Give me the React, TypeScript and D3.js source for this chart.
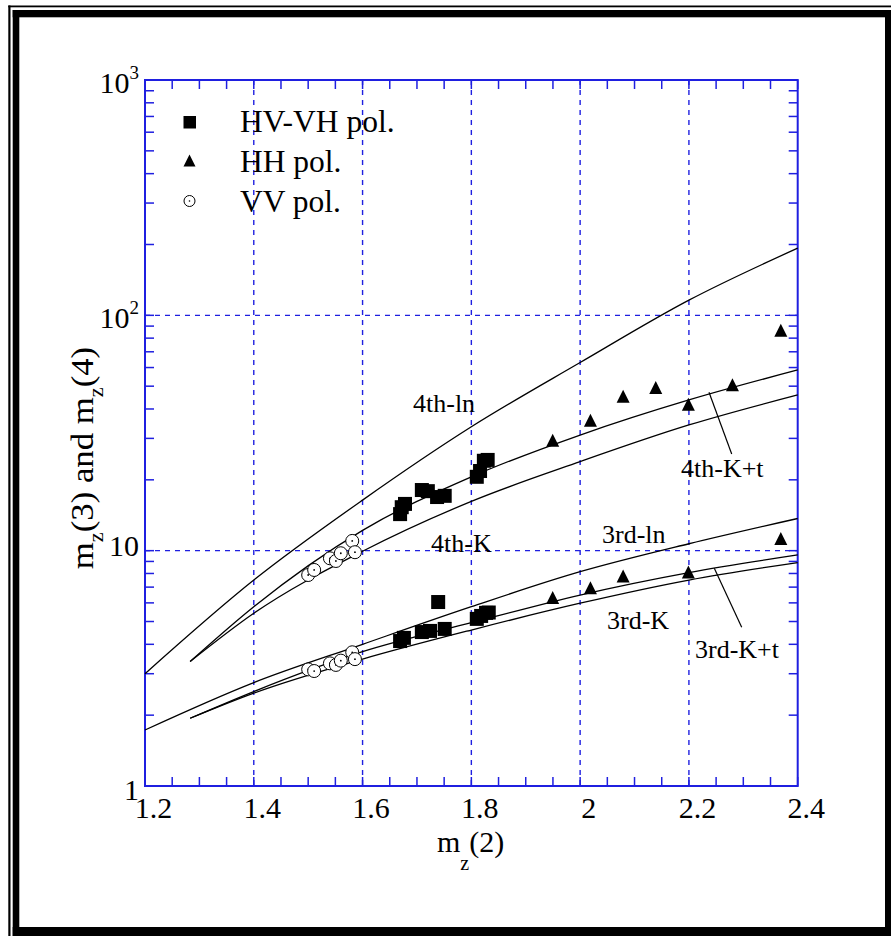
import React from "react";
import * as d3 from "d3";

// ---------- data ----------
const xLn = [1.2, 1.4, 1.6, 1.8, 2.0, 2.2, 2.4];
const xK = [1.283, 1.4, 1.6, 1.8, 2.0, 2.2, 2.4];
const y4thLn = [3.0, 7.5, 16.4, 33.6, 63, 116, 193];
const y4thKt = [3.38, 5.78, 12.2, 20.6, 31, 43.7, 58.6];
const y4thK = [3.38, 5.42, 9.94, 16.2, 23.9, 34.2, 45.9];
const y3rdLn = [1.73, 2.75, 4.0, 5.78, 8.14, 10.7, 13.7];
const y3rdKt = [1.94, 2.52, 3.72, 4.94, 6.48, 8.07, 9.59];
const y3rdK = [1.94, 2.48, 3.46, 4.6, 5.98, 7.5, 8.9];

const hvX4 = [1.669, 1.672, 1.678, 1.709, 1.72, 1.737, 1.751, 1.81, 1.816, 1.823, 1.83];
const hvY4 = [14.3, 15.3, 15.8, 18.1, 17.9, 16.9, 17.1, 20.6, 21.8, 24.1, 24.3];
const hvX3 = [1.669, 1.676, 1.709, 1.724, 1.739, 1.751, 1.81, 1.818, 1.827, 1.832];
const hvY3 = [4.13, 4.26, 4.51, 4.56, 6.05, 4.65, 5.13, 5.28, 5.44, 5.46];

const hhX4 = [1.9495, 2.019, 2.079, 2.139, 2.199, 2.28, 2.369];
const hhY4 = [29.3, 35.6, 45.0, 49.1, 41.6, 50.4, 85.9];
const hhX3 = [1.9495, 2.019, 2.079, 2.199, 2.369];
const hhY3 = [6.28, 6.92, 7.75, 8.06, 11.2];

const vvX = [1.5, 1.511, 1.54, 1.551, 1.56, 1.581, 1.586];
const vvY4 = [7.88, 8.28, 9.28, 9.04, 9.75, 11.0, 9.85];
const vvY3 = [3.13, 3.08, 3.32, 3.27, 3.41, 3.7, 3.46];

const xTickLabels = ["1.2", "1.4", "1.6", "1.8", "2", "2.2", "2.4"];
const xTickValues = [1.2, 1.4, 1.6, 1.8, 2.0, 2.2, 2.4];
const yTickValues = [1, 10, 100, 1000];
const yTickBases = ["1", "10", "10", "10"];
const yTickExps = ["", "", "2", "3"];
const xGrid = [1.4, 1.6, 1.8, 2.0, 2.2];
const yGrid = [10, 100];

const legendLabels = ["HV-VH pol.", "HH pol.", "VV pol."];

// ---------- layout ----------
const W = 891;
const H = 936;
const PL = 145;
const PR = 797.7;
const PT = 80;
const PB = 786;
const BLUE = "#1f1fe0";
const FONT = "'Liberation Serif', 'Times New Roman', serif";

export default function App() {
  const x = d3.scaleLinear().domain([1.2, 2.4]).range([PL, PR]);
  const y = d3.scaleLog().domain([1, 1000]).range([PB, PT]);

  const line = d3
    .line<[number, number]>()
    .x((d) => x(d[0]))
    .y((d) => y(d[1]))
    .curve(d3.curveMonotoneX);

  const curves: [number[], number[]][] = [
    [xLn, y4thLn],
    [xK, y4thKt],
    [xK, y4thK],
    [xLn, y3rdLn],
    [xK, y3rdKt],
    [xK, y3rdK],
  ];

  const minorX = d3.range(0, 25).map((i) => 1.2 + i * 0.05);
  const minorY: number[] = [];
  for (let e = 0; e < 3; e++) for (let m = 1; m <= 9; m++) minorY.push(m * Math.pow(10, e));
  minorY.push(1000);

  const tri = (cx: number, cy: number, s: number) =>
    `M${cx},${cy - s * 0.55}L${cx + s / 2},${cy + s * 0.45}L${cx - s / 2},${cy + s * 0.45}Z`;

  const TICK = 9;

  return (
    <svg
      width={W}
      height={H}
      style={{ position: "absolute", left: 0, top: 0, background: "#fff" }}
      fontFamily={FONT}
    >
      <rect x={0} y={0} width={W} height={H} fill="#fff" />
      {/* frame */}
      <rect x={8.3} y={5.5} width={W} height={1.8} fill="#000" />
      <rect x={8.3} y={5.5} width={2.2} height={H} fill="#000" />
      <rect x={12.7} y={10} width={W} height={7.3} fill="#000" />
      <rect x={12.7} y={10} width={6.6} height={H} fill="#000" />
      <rect x={885} y={10} width={10} height={H} fill="#000" />
      <rect x={12.7} y={927} width={W} height={12} fill="#000" />

      {/* grid */}
      {xGrid.map((v) => (
        <line key={"gx" + v} x1={x(v)} x2={x(v)} y1={PT} y2={PB} stroke={BLUE} strokeWidth={1.4} strokeDasharray="5,5" />
      ))}
      {yGrid.map((v) => (
        <line key={"gy" + v} x1={PL} x2={PR} y1={y(v)} y2={y(v)} stroke={BLUE} strokeWidth={1.4} strokeDasharray="5,5" />
      ))}

      {/* ticks */}
      {minorX.map((v, i) => (
        <g key={"tx" + i}>
          <line x1={x(v)} x2={x(v)} y1={PB} y2={PB - TICK} stroke={BLUE} strokeWidth={1.5} />
          <line x1={x(v)} x2={x(v)} y1={PT} y2={PT + TICK} stroke={BLUE} strokeWidth={1.5} />
        </g>
      ))}
      {minorY.map((v, i) => (
        <g key={"ty" + i}>
          <line x1={PL} x2={PL + TICK} y1={y(v)} y2={y(v)} stroke={BLUE} strokeWidth={1.5} />
          <line x1={PR} x2={PR - TICK} y1={y(v)} y2={y(v)} stroke={BLUE} strokeWidth={1.5} />
        </g>
      ))}
      {/* axes box */}
      <rect x={PL} y={PT} width={PR - PL} height={PB - PT} fill="none" stroke={BLUE} strokeWidth={2} />

      {/* tick labels */}
      {xTickValues.map((v, i) => (
        <text key={"xl" + i} x={x(v) + 8.5} y={818} fontSize={30} textAnchor="middle" fill="#000">
          {xTickLabels[i]}
        </text>
      ))}
      {yTickValues.map((v, i) => {
        const hasExp = yTickExps[i] !== "";
        const dy = hasExp ? 13 : v === 10 ? 5 : 14;
        return (
          <text key={"yl" + i} x={139} y={y(v) + dy} fontSize={30} textAnchor="end" fill="#000">
            {yTickBases[i]}
            {hasExp && (
              <tspan fontSize={19} dy={-14}>
                {yTickExps[i]}
              </tspan>
            )}
          </text>
        );
      })}

      {/* axis titles */}
      <text x={437} y={851.7} fontSize={30} fill="#000">
        m<tspan fontSize={20} dy={18}>z</tspan>
        <tspan dy={-18}>(2)</tspan>
      </text>
      <text
        transform="translate(93,458) rotate(-90) scale(1.12,1)"
        fontSize={31}
        textAnchor="middle"
        fill="#000"
      >
        m<tspan fontSize={20} dy={10}>z</tspan>
        <tspan dy={-10}>(3) and m</tspan>
        <tspan fontSize={20} dy={10}>z</tspan>
        <tspan dy={-10}>(4)</tspan>
      </text>

      {/* curves */}
      {curves.map(([xs, ys], i) => (
        <path
          key={"c" + i}
          d={line(xs.map((xv, j) => [xv, ys[j]] as [number, number])) || ""}
          fill="none"
          stroke="#000"
          strokeWidth={1.3}
        />
      ))}

      {/* curve labels */}
      <g fontSize={26} fill="#000">
        <text x={413} y={412}>4th-ln</text>
        <text x={431} y={552}>4th-K</text>
        <text x={681} y={477}>4th-K+t</text>
        <text x={602} y={543}>3rd-ln</text>
        <text x={607} y={629}>3rd-K</text>
        <text x={695} y={658}>3rd-K+t</text>
      </g>
      <line x1={709} y1={392.3} x2={731.7} y2={454} stroke="#000" strokeWidth={1.2} />
      <line x1={714.3} y1={568.3} x2={741.7} y2={627.3} stroke="#000" strokeWidth={1.2} />

      {/* squares */}
      {[...hvX4.map((v, i) => [v, hvY4[i]]), ...hvX3.map((v, i) => [v, hvY3[i]])].map((d, i) => (
        <rect key={"sq" + i} x={x(d[0]) - 7} y={y(d[1]) - 7} width={14} height={14} fill="#000" />
      ))}
      {/* triangles */}
      {[...hhX4.map((v, i) => [v, hhY4[i]]), ...hhX3.map((v, i) => [v, hhY3[i]])].map((d, i) => (
        <path key={"tr" + i} d={tri(x(d[0]), y(d[1]), 13)} fill="#000" />
      ))}
      {/* circles */}
      {[...vvX.map((v, i) => [v, vvY4[i]]), ...vvX.map((v, i) => [v, vvY3[i]])].map((d, i) => (
        <g key={"ci" + i}>
          <circle cx={x(d[0])} cy={y(d[1])} r={6.5} fill="#fff" stroke="#000" strokeWidth={1} />
          <circle cx={x(d[0])} cy={y(d[1])} r={0.9} fill="#000" />
        </g>
      ))}

      {/* legend */}
      <rect x={183.5} y={116} width={12.5} height={12.5} fill="#000" />
      <path d={tri(189.5, 161, 12)} fill="#000" />
      <circle cx={189.5} cy={201} r={5.5} fill="#fff" stroke="#000" strokeWidth={1} />
      <circle cx={189.5} cy={201} r={0.8} fill="#000" />
      {legendLabels.map((t, i) => (
        <text key={"lg" + i} x={240} y={131.7 + i * 40} fontSize={31.5} fill="#000">
          {t}
        </text>
      ))}
    </svg>
  );
}
